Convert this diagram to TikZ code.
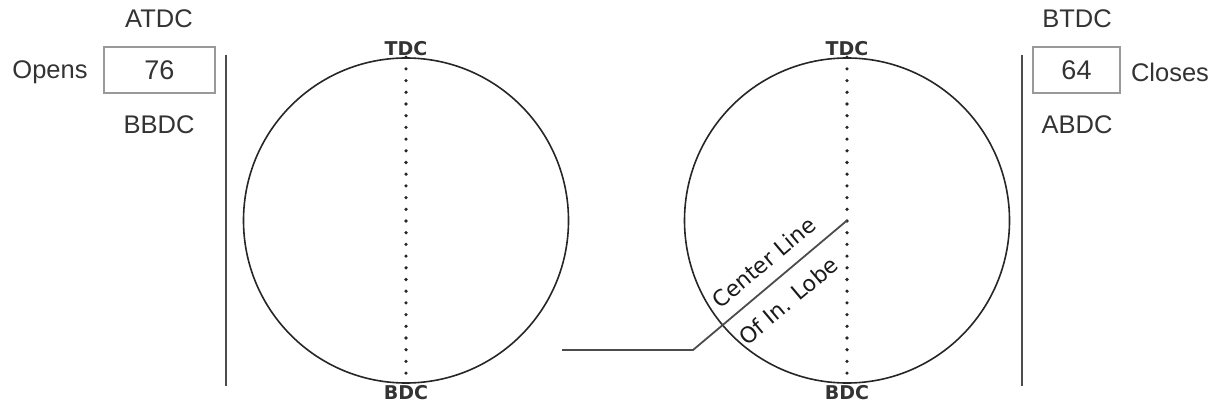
\documentclass[tikz,border=0pt]{standalone}
\usepackage{fontspec}
\setmainfont{Liberation Sans}
\newfontfamily\dcfont{DejaVu Sans}
\usepackage{tikz}
\colorlet{txt}{black!80}
\colorlet{frm}{black!40}

\begin{document}
\begin{tikzpicture}[
            x=1pt, y=-1pt,
            lbl/.style={text=txt,font=\fontsize{25.5}{29}\selectfont},
            valbox/.style={draw=frm,line width=1.4pt,minimum height=46pt,text=txt,font=\fontsize{27}{31}\selectfont},
            cam/.style={circle,draw=black!85,line width=1.6pt,minimum size=325pt,inner sep=0pt},
            dc/.style={font=\dcfont\bfseries\fontsize{19}{22}\selectfont,text=black!80,inner sep=1pt},
            lobetxt/.style={font=\dcfont\fontsize{22}{26}\selectfont,text=black!90}
        ]
            \useasboundingbox (0,0) rectangle (1215,409);
    
            % timing boxes
            \node [valbox,minimum width=111pt] (open) at (159.5,70) {76};
            \node [lbl] (opens) at (50,72) {Opens};
            \node [lbl] (atdc) at (159,19) {ATDC};
            \node [lbl] (bbdc) at (159,125) {BBDC};
    
            \node [valbox,minimum width=87pt] (close) at (1076.5,70) {64};
            \node [lbl] (closes) at (1170,72) {Closes};
            \node [lbl] (btdc) at (1077,19) {BTDC};
            \node [lbl] (abdc) at (1077,125) {ABDC};
    
            \draw [black!70,line width=1.4pt] (226,55) -- (226,386);
            \draw [black!70,line width=1.4pt] (1022,55) -- (1022,386);
    
            % cam circles
            \foreach \c/\cx in {lcam/406,rcam/847} {
                \node [cam] (\c) at (\cx,220.5) {};
                \node [dc,above=0pt] (\c-tdc) at (\c.north) {TDC};
                \node [dc,below=0pt] (\c-bdc) at (\c.south) {BDC};
                \draw [black!85,line width=3.6pt,line cap=round,dash pattern=on 0pt off 11.7pt] (\c.north) -- (\c.south);
            }
    
            \coordinate (lobe) at (562,350);
            \coordinate (knee) at (693,350);
            \draw [black!70,line width=1.8pt] (lobe) -- (knee) -- (rcam.center)
                node [lobetxt,pos=0.55,sloped,above=9pt] (cl) {Center Line}
                node [lobetxt,pos=0.52,sloped,below=11pt] (ol) {Of In. Lobe};
        \end{tikzpicture}
\end{document}
